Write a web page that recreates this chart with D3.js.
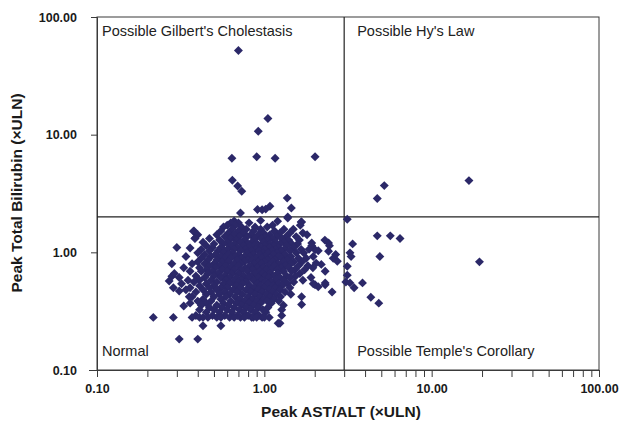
<!DOCTYPE html>
<html>
<head>
<meta charset="utf-8">
<script src="https://cdn.jsdelivr.net/npm/d3@7"></script>
<style>
  html, body { margin: 0; padding: 0; background: #fff; }
  svg { display: block; font-family: "Liberation Sans", Arial, sans-serif; }
</style>
</head>
<body>
<svg id="chart" width="620" height="425"></svg>
<script>
// ---- Data ----
const xTickValues = [0.1, 1, 10, 100];
const yTickValues = [0.1, 1, 10, 100];
const xLimit = 3;   // 3 x ULN AST/ALT
const yLimit = 2;   // 2 x ULN bilirubin
const quadrantLabels = ["Possible Gilbert's Cholestasis", "Possible Hy's Law", "Normal", "Possible Temple's Corollary"];

// scattered points outside the main cluster: [AST/ALT, bilirubin]
const outlierPoints = [
  [0.70, 52], [1.05, 13.7], [0.92, 10.7], [0.64, 6.3], [0.90, 6.5], [1.16, 6.3], [2.01, 6.5],
  [0.644, 4.1], [0.693, 3.66], [0.733, 3.3], [1.37, 2.89], [1.45, 2.38], [0.91, 2.31], [1.08, 2.46],
  [0.97, 2.30], [1.02, 2.33], [0.72, 2.16], [1.38, 2.0],
  [5.21, 3.69], [4.73, 2.87], [16.7, 4.07], [3.13, 1.91], [1.67, 1.81],
  [4.73, 1.38], [5.66, 1.38], [6.47, 1.31], [4.90, 0.92], [19.3, 0.83],
  [3.37, 1.18], [3.25, 0.99], [3.30, 0.92], [3.13, 0.76], [3.13, 0.64], [3.07, 0.56], [3.25, 0.55],
  [3.44, 0.50], [3.86, 0.55], [4.33, 0.415], [4.83, 0.37],
  [1.38, 1.96], [1.66, 1.81], [2.42, 1.20], [2.54, 0.46], [2.31, 0.53], [2.01, 0.53],
  [1.67, 0.42], [1.67, 0.36], [1.27, 0.29], [1.21, 0.25], [1.07, 0.28],
  [0.30, 1.10], [0.36, 1.09], [0.377, 1.51], [0.385, 1.32], [0.31, 0.183], [0.40, 0.183],
  [0.43, 0.238], [0.55, 0.238], [0.28, 0.625], [0.286, 0.50], [0.27, 0.57], [0.31, 0.47],
  [0.356, 0.42], [0.36, 0.37], [0.33, 0.35], [2.73, 0.84], [2.58, 0.89], [2.19, 0.79], [2.04, 0.81],
  [1.92, 1.20], [2.01, 1.05], [2.42, 1.02], [2.10, 0.51], [2.31, 0.55], [0.66, 1.85], [0.95, 1.86], [1.20, 1.84]
];

// main cluster, one row per bilirubin level: [bilirubin, [AST/ALT values]]
const clusterRows = [
  [1.78, [0.63, 0.70, 0.81]],
  [1.70, [0.60, 0.67, 1.12, 1.64]],
  [1.64, [0.57, 0.73, 0.88, 1.04]],
  [1.57, [0.64, 0.78, 0.95, 1.31, 1.49]],
  [1.52, [0.38, 0.55, 0.70, 0.86, 1.15]],
  [1.46, [0.61, 0.75, 0.99, 1.24, 1.42, 1.70]],
  [1.41, [0.40, 0.52, 0.66, 0.83, 0.92, 1.08, 1.80]],
  [1.36, [0.58, 0.71, 0.79, 1.01, 1.19, 1.35, 1.55]],
  [1.31, [0.385, 0.47, 0.63, 0.88, 0.96, 1.12, 1.27]],
  [1.27, [0.54, 0.68, 0.76, 1.05, 1.40, 1.62, 2.30]],
  [1.22, [0.43, 0.60, 0.72, 0.84, 0.99, 1.17, 1.31]],
  [1.18, [0.50, 0.57, 0.66, 0.80, 0.91, 1.08, 1.24, 1.46, 1.58]],
  [1.14, [0.45, 0.63, 0.75, 0.87, 1.01, 1.14, 1.36, 1.92, 2.45]],
  [1.10, [0.49, 0.55, 0.69, 0.81, 0.95, 1.07, 1.21, 1.50]],
  [1.06, [0.42, 0.60, 0.66, 0.77, 0.89, 1.00, 1.17, 1.31, 1.66, 1.85]],
  [1.03, [0.47, 0.53, 0.72, 0.84, 0.93, 1.11, 1.26, 1.42, 2.10]],
  [0.99, [0.40, 0.57, 0.64, 0.79, 0.98, 1.05, 1.19, 1.55, 1.72]],
  [0.96, [0.44, 0.51, 0.61, 0.70, 0.86, 0.94, 1.13, 1.33, 2.67]],
  [0.92, [0.34, 0.48, 0.55, 0.67, 0.76, 0.82, 1.01, 1.22, 1.44, 1.96]],
  [0.89, [0.42, 0.58, 0.63, 0.73, 0.89, 0.97, 1.09, 1.27, 1.60, 1.78]],
  [0.86, [0.46, 0.52, 0.69, 0.80, 0.85, 1.04, 1.16, 1.37]],
  [0.83, [0.40, 0.56, 0.61, 0.76, 0.92, 1.00, 1.12, 1.30, 1.50, 1.68]],
  [0.80, [0.28, 0.37, 0.44, 0.50, 0.66, 0.72, 0.87, 0.96, 1.21, 1.44]],
  [0.77, [0.47, 0.54, 0.59, 0.70, 0.82, 1.06, 1.15, 1.34, 1.60, 1.82]],
  [0.74, [0.33, 0.41, 0.51, 0.63, 0.77, 0.91, 0.99, 1.26, 1.40, 1.95]],
  [0.71, [0.45, 0.56, 0.66, 0.73, 0.85, 1.03, 1.10, 1.20, 1.52, 1.74]],
  [0.69, [0.36, 0.42, 0.49, 0.60, 0.79, 0.94, 1.30, 1.46, 2.31]],
  [0.66, [0.29, 0.46, 0.53, 0.64, 0.70, 0.88, 0.97, 1.08, 1.20, 1.63]],
  [0.63, [0.39, 0.50, 0.58, 0.75, 0.82, 1.01, 1.14, 1.36, 1.54]],
  [0.61, [0.31, 0.44, 0.55, 0.62, 0.68, 0.80, 0.92, 1.06, 1.24, 1.42, 1.90]],
  [0.58, [0.35, 0.41, 0.48, 0.59, 0.73, 0.86, 0.96, 1.17, 1.30, 1.70]],
  [0.56, [0.38, 0.52, 0.65, 0.70, 0.78, 1.01, 1.10, 1.50]],
  [0.54, [0.32, 0.45, 0.57, 0.62, 0.74, 0.91, 1.05, 1.22, 1.38, 1.96]],
  [0.52, [0.41, 0.50, 0.68, 0.82, 0.95, 1.13, 1.28]],
  [0.50, [0.36, 0.47, 0.55, 0.60, 0.72, 0.87, 1.00, 1.16, 1.42]],
  [0.48, [0.34, 0.43, 0.52, 0.65, 0.78, 0.92, 1.07, 1.24]],
  [0.46, [0.39, 0.48, 0.58, 0.69, 0.83, 0.97, 1.12, 1.33]],
  [0.44, [0.45, 0.54, 0.62, 0.74, 0.88, 1.03, 1.18, 1.44]],
  [0.42, [0.37, 0.50, 0.59, 0.67, 0.80, 0.94, 1.08, 1.25]],
  [0.40, [0.43, 0.55, 0.71, 0.85, 0.99, 1.14]],
  [0.385, [0.40, 0.48, 0.63, 0.76, 0.90, 1.04, 1.22]],
  [0.37, [0.45, 0.57, 0.68, 0.81, 0.95, 1.10]],
  [0.355, [0.42, 0.52, 0.61, 0.73, 0.86, 1.30]],
  [0.34, [0.47, 0.56, 0.66, 0.78, 0.92, 1.05]],
  [0.325, [0.41, 0.50, 0.60, 0.71, 0.83, 0.98, 1.27]],
  [0.31, [0.45, 0.54, 0.64, 0.75, 0.88, 1.02]],
  [0.29, [0.39, 0.49, 0.58, 0.69, 0.80, 0.93]],
  [0.28, [0.217, 0.286, 0.37, 0.41, 0.43, 0.46, 0.52, 0.55, 0.62, 0.66, 0.72, 0.76, 0.84, 0.86, 0.90, 0.97, 1.00]],
  [0.25, [1.24]]
];

const points = outlierPoints.concat(clusterRows.flatMap(([b, xs]) => xs.map(a => [a, b])));

// ---- Layout ----
const svg = d3.select("#chart");
const plot = { left: 97, right: 599, top: 17, bottom: 370 };
const axisColor = "#3a3a3a";
const markerColor = "#2b2868";

const x = d3.scaleLog().domain([0.1, 100]).range([plot.left, plot.right]);
const y = d3.scaleLog().domain([0.1, 100]).range([plot.bottom, plot.top]);
const fmt = d3.format(".2f");

// frame
svg.append("rect")
  .attr("x", plot.left).attr("y", plot.top)
  .attr("width", plot.right - plot.left).attr("height", plot.bottom - plot.top)
  .attr("fill", "none").attr("stroke", axisColor).attr("stroke-width", 1);

// x axis: majors labelled, minors as ticks going down
const xMinor = x.ticks();
const gx = svg.append("g").attr("transform", `translate(0,${plot.bottom})`);
gx.call(d3.axisBottom(x).tickValues(xMinor).tickSize(7).tickPadding(5).tickFormat(d => xTickValues.includes(d) ? fmt(d) : ""));
gx.select(".domain").attr("stroke", axisColor).attr("d", `M${plot.left - 8},0.5H${plot.right}`);
gx.selectAll(".tick line").attr("stroke", axisColor);
gx.selectAll(".tick text")
  .attr("fill", "#1a1a1a").attr("font-size", 12.5).attr("font-weight", "bold")
  .attr("font-family", "Liberation Sans, Arial, sans-serif").attr("dy", "0.9em");

// y axis: majors only
const gy = svg.append("g").attr("transform", `translate(${plot.left},0)`);
gy.call(d3.axisLeft(y).tickValues(yTickValues).tickSize(6).tickPadding(14).tickFormat(fmt));
gy.select(".domain").attr("stroke", axisColor);
gy.selectAll(".tick line").attr("stroke", axisColor);
gy.selectAll(".tick text")
  .attr("fill", "#1a1a1a").attr("font-size", 12.5).attr("font-weight", "bold")
  .attr("font-family", "Liberation Sans, Arial, sans-serif");

// reference lines
svg.append("line")
  .attr("x1", x(xLimit)).attr("x2", x(xLimit))
  .attr("y1", plot.top).attr("y2", plot.bottom)
  .attr("stroke", "#222").attr("stroke-width", 1.2);
svg.append("line")
  .attr("x1", plot.left).attr("x2", plot.right)
  .attr("y1", y(yLimit)).attr("y2", y(yLimit))
  .attr("stroke", "#222").attr("stroke-width", 1.2);

// quadrant labels
const qPos = [
  [x(0.1) + 5, plot.top + 19],
  [x(xLimit) + 13, plot.top + 19],
  [x(0.1) + 5, plot.bottom - 14],
  [x(xLimit) + 13, plot.bottom - 14]
];
svg.selectAll("text.quad").data(quadrantLabels).join("text")
  .attr("class", "quad")
  .attr("x", (d, i) => qPos[i][0]).attr("y", (d, i) => qPos[i][1])
  .attr("font-size", 14.5).attr("fill", "#222")
  .text(d => d);

// markers (diamonds)
const sym = d3.symbol().type(d3.symbolSquare).size(40);
svg.append("g").selectAll("path").data(points).join("path")
  .attr("d", sym)
  .attr("transform", d => `translate(${x(d[0])},${y(d[1])}) rotate(45)`)
  .attr("fill", markerColor);

// axis titles
svg.append("text")
  .attr("x", 341).attr("y", 417)
  .attr("text-anchor", "middle").attr("font-size", 15.5).attr("font-weight", "bold").attr("fill", "#1a1a1a")
  .text("Peak AST/ALT (×ULN)");
svg.append("text")
  .attr("transform", "translate(22,193) rotate(-90)")
  .attr("text-anchor", "middle").attr("font-size", 15.5).attr("font-weight", "bold").attr("fill", "#1a1a1a")
  .text("Peak Total Bilirubin (×ULN)");
</script>
</body>
</html>
